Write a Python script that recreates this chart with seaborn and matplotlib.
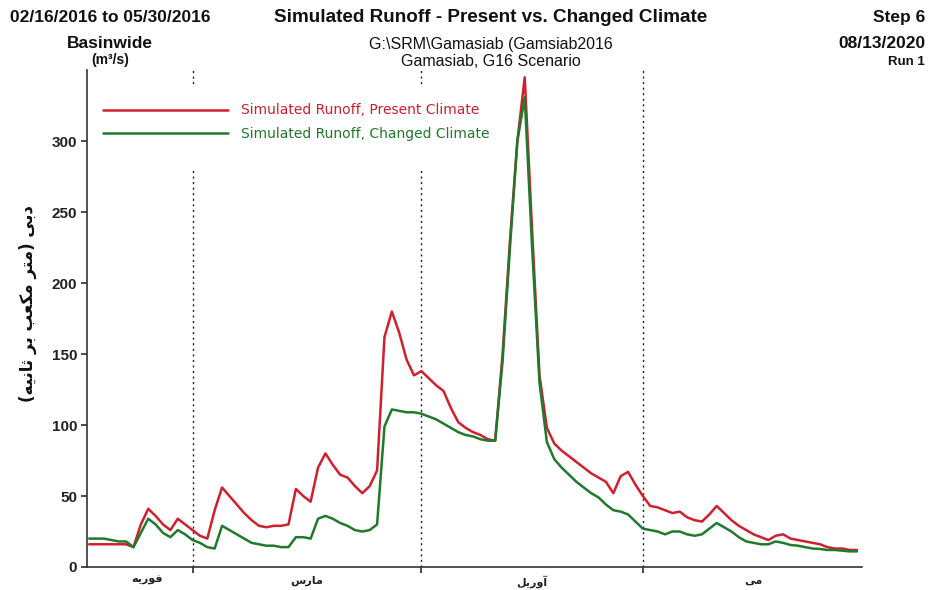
import numpy as np
import pandas as pd
import matplotlib
matplotlib.use("Agg")
import matplotlib.pyplot as plt
from matplotlib.patches import Rectangle
import seaborn as sns

# Daily simulated runoff (m3/s), 16 Feb 2016 .. 30 May 2016
present_climate = [
    16, 16, 16, 16, 16, 16, 14, 30, 41, 36,
    30, 26, 34, 30, 26, 22, 20, 40, 56, 50,
    44, 38, 33, 29, 28, 29, 29, 30, 55, 50,
    46, 70, 80, 72, 65, 63, 57, 52, 57, 68,
    162, 180, 165, 146, 135, 138, 133, 128, 124, 112,
    102, 98, 95, 93, 90, 89, 150, 230, 300, 345,
    237, 135, 98, 87, 82, 78, 74, 70, 66, 63,
    60, 52, 64, 67, 58, 50, 43, 42, 40, 38,
    39, 35, 33, 32, 37, 43, 38, 33, 29, 26,
    23, 21, 19, 22, 23, 20, 19, 18, 17, 16,
    14, 13, 13, 12, 12,
]
changed_climate = [
    20, 20, 20, 19, 18, 18, 14, 24, 34, 30,
    24, 21, 26, 23, 19, 17, 14, 13, 29, 26,
    23, 20, 17, 16, 15, 15, 14, 14, 21, 21,
    20, 34, 36, 34, 31, 29, 26, 25, 26, 30,
    99, 111, 110, 109, 109, 108, 106, 104, 101, 98,
    95, 93, 92, 90, 89, 89, 145, 225, 300, 331,
    225, 130, 88, 76, 70, 65, 60, 56, 52, 49,
    44, 40, 39, 37, 32, 27, 26, 25, 23, 25,
    25, 23, 22, 23, 27, 31, 28, 25, 21, 18,
    17, 16, 16, 18, 17, 15.5, 15, 14, 13, 12.7,
    12, 12, 11.5, 11, 11,
]
series_names = ["Simulated Runoff, Present Climate", "Simulated Runoff, Changed Climate"]
series_colors = ["#d0202e", "#1f7a2c"]

month_names = ["فوریه", "مارس", "آوریل", "می"]
month_starts = [14, 45, 75]          # day index of 1 Mar, 1 Apr, 1 May
month_centers = [7.8, 29.5, 60, 90]
y_ticks = [0, 50, 100, 150, 200, 250, 300]
y_label = "دبی (متر مکعب بر ثانیه)"

# --- minimal Arabic-script shaping (matplotlib draws glyphs left-to-right, unjoined) ---
_FORMS = {
    "ا": ("\uFE8D", "\uFE8E"), "آ": ("\uFE81", "\uFE82"),
    "د": ("\uFEA9", "\uFEAA"), "ر": ("\uFEAD", "\uFEAE"),
    "و": ("\uFEED", "\uFEEE"),
    "ب": ("\uFE8F", "\uFE90", "\uFE91", "\uFE92"),
    "ت": ("\uFE95", "\uFE96", "\uFE97", "\uFE98"),
    "ث": ("\uFE99", "\uFE9A", "\uFE9B", "\uFE9C"),
    "س": ("\uFEB1", "\uFEB2", "\uFEB3", "\uFEB4"),
    "ع": ("\uFEC9", "\uFECA", "\uFECB", "\uFECC"),
    "ف": ("\uFED1", "\uFED2", "\uFED3", "\uFED4"),
    "ل": ("\uFEDD", "\uFEDE", "\uFEDF", "\uFEE0"),
    "م": ("\uFEE1", "\uFEE2", "\uFEE3", "\uFEE4"),
    "ن": ("\uFEE5", "\uFEE6", "\uFEE7", "\uFEE8"),
    "ه": ("\uFEE9", "\uFEEA", "\uFEEB", "\uFEEC"),
    "ی": ("\uFBFC", "\uFBFD", "\uFBFE", "\uFBFF"),
    "ک": ("\uFB8E", "\uFB8F", "\uFB90", "\uFB91"),
}


def rtl(text):
    out = []
    for k, ch in enumerate(text):
        f = _FORMS.get(ch)
        if f is None:
            out.append(ch)
            continue
        prev = text[k - 1] if k > 0 else None
        nxt = text[k + 1] if k + 1 < len(text) else None
        jp = prev in _FORMS and len(_FORMS[prev]) == 4
        jn = len(f) == 4 and nxt in _FORMS
        if jp and jn:
            out.append(f[3])
        elif jp:
            out.append(f[1])
        elif jn:
            out.append(f[2])
        else:
            out.append(f[0])
    return "".join(reversed(out)).translate(str.maketrans("()", ")("))


days = np.arange(len(present_climate))
df = pd.DataFrame({
    "day": np.concatenate([days, days]),
    "runoff": present_climate + changed_climate,
    "series": [series_names[0]] * len(days) + [series_names[1]] * len(days),
})

sns.set_theme(style="ticks")
plt.rcParams["font.family"] = ["Liberation Sans", "DejaVu Sans"]

fig = plt.figure(figsize=(9.31, 5.90), dpi=100)
ax = fig.add_axes([0.0934, 0.039, 0.8326, 0.842])

sns.lineplot(data=df, x="day", y="runoff", hue="series", hue_order=series_names,
             palette=series_colors, linewidth=1.8, ax=ax, zorder=3)

for d in month_starts:
    ax.axvline(d, color="#222222", lw=1.0, ls=(0, (1.5, 2.5)), zorder=1)

# white key panel behind the legend entries
ax.add_patch(Rectangle((0.015, 0.80), 0.54, 0.17, transform=ax.transAxes,
                       facecolor="white", edgecolor="none", zorder=2))

ax.set_xlim(-0.3, 104.7)
ax.set_ylim(0, 350)
ax.set_yticks(y_ticks)
ax.set_yticklabels([str(v) for v in y_ticks], fontsize=11, fontweight="bold", color="#222222")
ax.set_xticks(month_starts)
ax.set_xticklabels([])
ax.set_xticks(month_centers, minor=True)
ax.set_xticklabels([rtl(m) for m in month_names], minor=True, fontsize=8,
                   fontweight="bold", family=["DejaVu Sans"], color="#222222")
ax.tick_params(axis="x", which="minor", length=0, pad=6)
ax.tick_params(axis="x", which="major", length=4, color="#333333")
ax.tick_params(axis="y", length=4, color="#333333", pad=3)
ax.set_xlabel("")
ax.set_ylabel(rtl(y_label), fontsize=12, fontweight="bold", family=["DejaVu Sans"],
              color="#111111")
ax.yaxis.set_label_coords(-0.064, 0.53)
sns.despine(ax=ax)
for s in ("left", "bottom"):
    ax.spines[s].set_color("#333333")
    ax.spines[s].set_linewidth(1.2)

handles, labels = ax.get_legend_handles_labels()
leg = ax.legend(handles, labels, loc="upper left", bbox_to_anchor=(0.021, 0.933),
                prop={"family": "DejaVu Sans", "size": 10}, frameon=False,
                handlelength=9, handletextpad=0.9, borderpad=0.0, borderaxespad=0.0,
                labelspacing=0.65)
leg.set_zorder(5)
for txt, col in zip(leg.get_texts(), series_colors):
    txt.set_color(col)

# header blocks
fig.text(0.118, 0.9695, "02/16/2016 to 05/30/2016", ha="center", va="center",
         fontsize=12.5, fontweight="bold", color="#111111")
fig.text(0.118, 0.927, "Basinwide", ha="center", va="center",
         fontsize=12.5, fontweight="bold", color="#111111")
fig.text(0.118, 0.898, "(m³/s)", ha="center", va="center",
         fontsize=10, fontweight="bold", color="#111111")
fig.text(0.527, 0.9695, "Simulated Runoff - Present vs. Changed Climate", ha="center",
         va="center", fontsize=13.6, fontweight="bold", color="#111111")
fig.text(0.527, 0.925, "G:\\SRM\\Gamasiab (Gamsiab2016", ha="center", va="center",
         fontsize=11.5, color="#111111")
fig.text(0.527, 0.896, "Gamasiab, G16 Scenario", ha="center", va="center",
         fontsize=11.5, color="#111111")
fig.text(0.9936, 0.9695, "Step 6", ha="right", va="center",
         fontsize=12.5, fontweight="bold", color="#111111")
fig.text(0.9936, 0.927, "08/13/2020", ha="right", va="center",
         fontsize=12.5, fontweight="bold", color="#111111")
fig.text(0.9936, 0.895, "Run 1", ha="right", va="center",
         fontsize=9.5, fontweight="bold", color="#111111")

fig.savefig("out.png", dpi=100, facecolor="white")
